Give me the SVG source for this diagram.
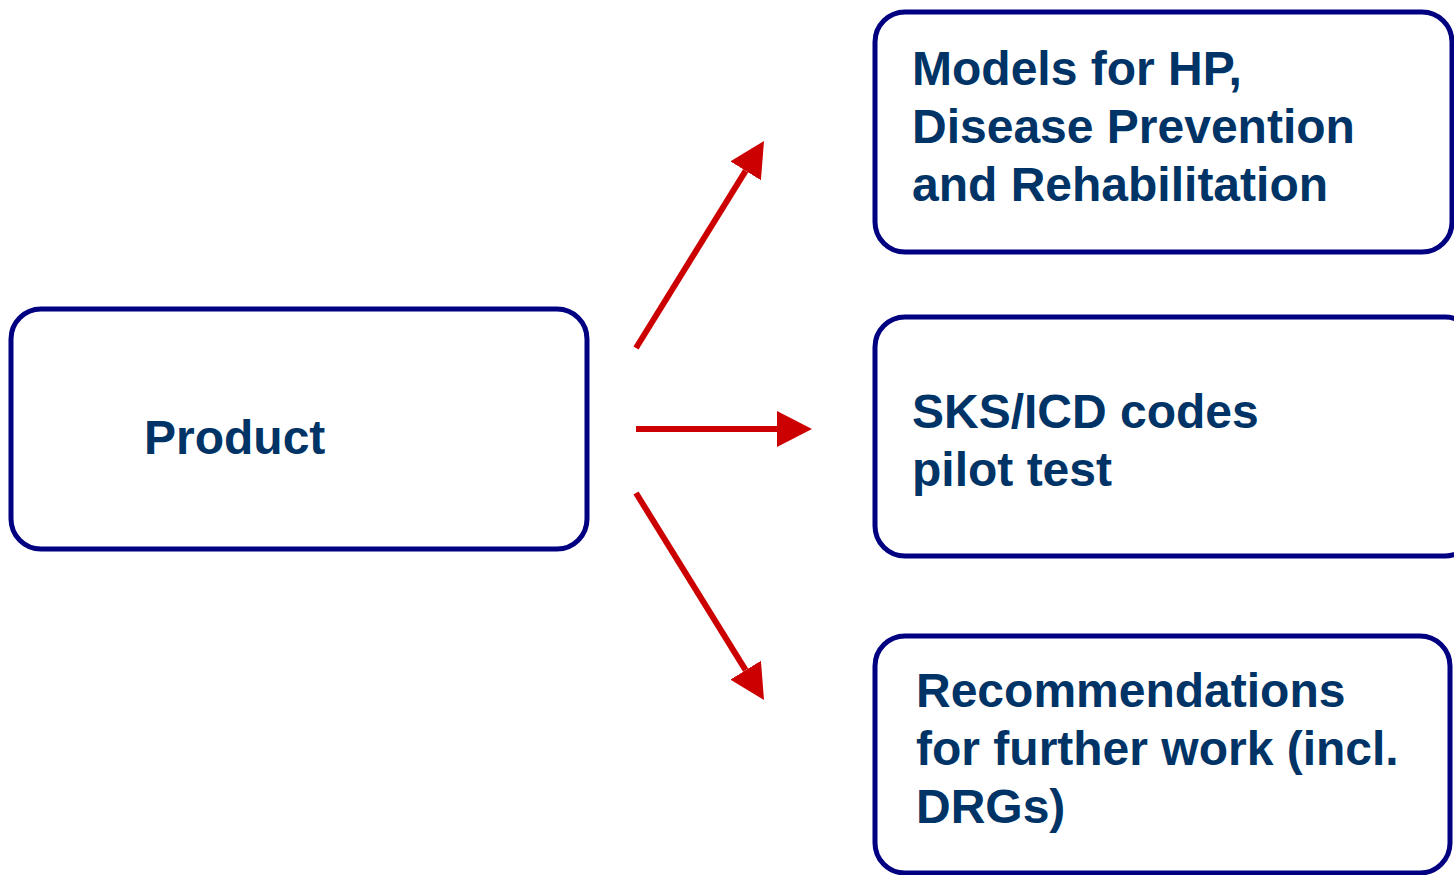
<svg xmlns="http://www.w3.org/2000/svg" width="1454" height="875" viewBox="0 0 1454 875">
<style>
.box{fill:#ffffff;stroke:#000080;stroke-width:5}
.lbl{font-family:"Liberation Sans",Arial,sans-serif;font-weight:bold;font-size:48px;fill:#003366}
.arr{stroke:#cc0000;stroke-width:6;fill:none}
</style>
<defs>
<marker id="ah" viewBox="0 0 35 36" refX="0" refY="18" markerWidth="35" markerHeight="36" markerUnits="userSpaceOnUse" orient="auto">
<path d="M0,0 L35,18 L0,36 z" fill="#cc0000"/>
</marker>
</defs>
<rect width="1454" height="875" fill="#ffffff"/>
<g id="product">
<rect class="box" x="11" y="309" width="576" height="240" rx="30"/>
<text class="lbl" x="144" y="454">Product</text>
</g>
<g id="models">
<rect class="box" x="875" y="12" width="577" height="240" rx="30"/>
<text class="lbl" x="912" y="85">Models for HP,</text>
<text class="lbl" x="912" y="143">Disease Prevention</text>
<text class="lbl" x="912" y="201">and Rehabilitation</text>
</g>
<g id="sks">
<rect class="box" x="875" y="317" width="600" height="239" rx="30"/>
<text class="lbl" x="912" y="428">SKS/ICD codes</text>
<text class="lbl" x="912" y="486">pilot test</text>
</g>
<g id="recommendations">
<rect class="box" x="875" y="636" width="575" height="237" rx="30"/>
<text class="lbl" x="916" y="707">Recommendations</text>
<text class="lbl" x="916" y="765">for further work (incl.</text>
<text class="lbl" x="916" y="823">DRGs)</text>
</g>
<g id="connectors">
<line class="arr" x1="636" y1="348" x2="745.6" y2="170.8" marker-end="url(#ah)"/>
<line class="arr" x1="636" y1="429" x2="777" y2="429" marker-end="url(#ah)"/>
<line class="arr" x1="636" y1="493" x2="745.6" y2="670.2" marker-end="url(#ah)"/>
</g>
</svg>
